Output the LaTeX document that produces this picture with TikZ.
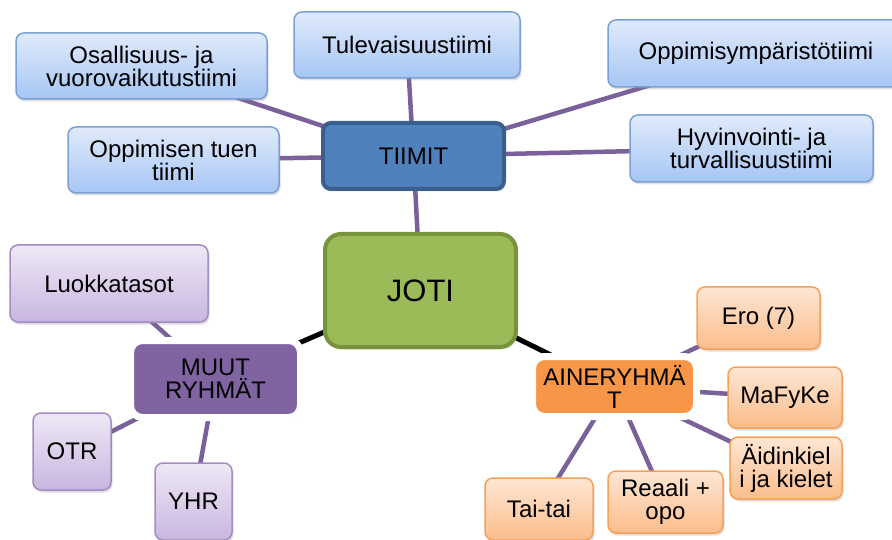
\documentclass[tikz,border=0pt]{standalone}
\usepackage{fontspec}
\setmainfont{Liberation Sans}
\usetikzlibrary{shadows,backgrounds}
\definecolor{bluetop}{HTML}{E0EAFB}
\definecolor{bluebot}{HTML}{A6C6F4}
\definecolor{bluebd}{HTML}{7BA0D4}
\definecolor{purtop}{HTML}{EEE8F5}
\definecolor{purbot}{HTML}{C9B6E0}
\definecolor{purbd}{HTML}{A28DC0}
\definecolor{ortop}{HTML}{FEE6D3}
\definecolor{orbot}{HTML}{FBBD8C}
\definecolor{orbd}{HTML}{F6A15A}
\definecolor{tiimifill}{HTML}{4F81BD}
\definecolor{tiimibd}{HTML}{3A5F8C}
\definecolor{jotifill}{HTML}{9BBB59}
\definecolor{jotibd}{HTML}{77933C}
\definecolor{muutfill}{HTML}{8064A2}
\definecolor{ainefill}{HTML}{F79646}
\definecolor{connc}{HTML}{7B6199}
\tikzset{
  base/.style={rounded corners=8pt, align=center, inner sep=0pt,
    font=\fontsize{24}{23}\selectfont,
    drop shadow={opacity=0.25, shadow xshift=1.5pt, shadow yshift=-2.5pt}},
  leafblue/.style={base, draw=bluebd, line width=1.5pt, top color=bluetop, bottom color=bluebot},
  leafpur/.style={base, draw=purbd, line width=1.5pt, top color=purtop, bottom color=purbot},
  leafor/.style={base, draw=orbd, line width=1.5pt, top color=ortop, bottom color=orbot},
  hubtiimi/.style={base, draw=tiimibd, line width=4pt, fill=tiimifill},
  hubjoti/.style={base, rounded corners=16pt, draw=jotibd, line width=4pt, fill=jotifill,
    font=\fontsize{31}{31}\selectfont},
  hubwhite/.style={base, rounded corners=12pt, draw=white, line width=7pt,
    drop shadow={opacity=0.3, shadow xshift=1.5pt, shadow yshift=-2.5pt}},
  conn/.style={draw=connc, line width=4.5pt},
  connblack/.style={draw=black, line width=5pt}
}
\begin{document}
\begin{tikzpicture}[x=1pt,y=-1pt]
\useasboundingbox (0,0) rectangle (892,540);
% top cluster
\node[leafblue, minimum width=251pt, minimum height=66pt] (osal) at (141.5,66) {Osallisuus- ja\\vuorovaikutustiimi};
\node[leafblue, minimum width=211pt, minimum height=66pt] (oppt) at (173.5,160) {Oppimisen tuen\\tiimi};
\node[leafblue, minimum width=226pt, minimum height=66pt] (tule) at (407,45) {Tulevaisuustiimi};
\node[leafblue, minimum width=296pt, minimum height=67pt] (oppy) at (756,53.5) {Oppimisympäristötiimi};
\node[leafblue, minimum width=243pt, minimum height=67pt] (hyvi) at (751.5,148.5) {Hyvinvointi- ja\\turvallisuustiimi};
\node[hubtiimi, minimum width=181pt, minimum height=66pt] (tiimit) at (413.5,156) {TIIMIT};
% center
\node[hubjoti, minimum width=191pt, minimum height=113pt] (joti) at (420.5,290.5) {JOTI};
% left cluster
\node[leafpur, minimum width=198pt, minimum height=77pt] (luok) at (109,283.5) {Luokkatasot};
\node[hubwhite, fill=muutfill, minimum width=170pt, minimum height=77pt] (muut) at (215.5,379) {MUUT\\RYHMÄT};
\node[leafpur, minimum width=78pt, minimum height=77pt] (otr) at (72,451.5) {OTR};
\node[leafpur, minimum width=77pt, minimum height=77pt] (yhr) at (193.5,501.5) {YHR};
% right cluster
\node[hubwhite, fill=ainefill, minimum width=164pt, minimum height=60pt] (aine) at (614.5,386.5) {AINERYHMÄ\\T};
\node[leafor, minimum width=123pt, minimum height=62pt] (ero) at (758.5,318) {Ero (7)};
\node[leafor, minimum width=114pt, minimum height=61pt] (mafy) at (785,397.5) {MaFyKe};
\node[leafor, minimum width=112pt, minimum height=62pt] (aidi) at (786,468) {Äidinkiel\\i ja kielet};
\node[leafor, minimum width=115pt, minimum height=62pt] (reaa) at (665.5,502) {Reaali +\\opo};
\node[leafor, minimum width=108pt, minimum height=62pt] (tait) at (539,509) {Tai-tai};
\begin{scope}[on background layer]
\draw[conn] (osal.center) -- (tiimit.center);
\draw[conn] (oppt.center) -- (tiimit.center);
\draw[conn] (tule.center) -- (tiimit.center);
\draw[conn] (oppy.center) -- (tiimit.center);
\draw[conn] (hyvi.center) -- (tiimit.center);
\draw[conn] (tiimit.center) -- (joti.center);
\draw[connblack] (joti.center) -- (muut.center);
\draw[connblack] (joti.center) -- (aine.center);
\draw[conn] (luok.center) -- (muut.center);
\draw[conn] (otr.center) -- (muut.center);
\draw[conn] (yhr.center) -- (muut.center);
\draw[conn] (ero.center) -- (aine.center);
\draw[conn] (mafy.center) -- (aine.center);
\draw[conn] (aidi.center) -- (aine.center);
\draw[conn] (reaa.center) -- (aine.center);
\draw[conn] (tait.center) -- (aine.center);
\end{scope}
\end{tikzpicture}
\end{document}
